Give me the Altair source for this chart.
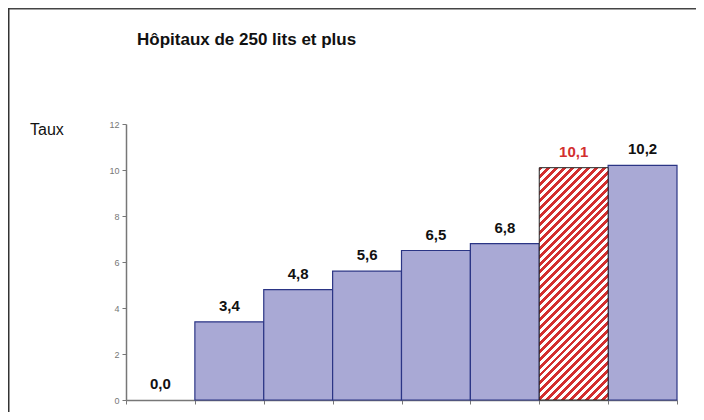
import altair as alt
import pandas as pd

# ---- data ----
positions = [0, 1, 2, 3, 4, 5, 6, 7]
values = [0.0, 3.4, 4.8, 5.6, 6.5, 6.8, 10.1, 10.2]
value_labels = ["0,0", "3,4", "4,8", "5,6", "6,5", "6,8", "10,1", "10,2"]
highlight = [False, False, False, False, False, False, True, False]
y_ticks = [0, 2, 4, 6, 8, 10, 12]
x_ticks = [0, 1, 2, 3, 4, 5, 6, 7, 8]
title_text = "Hôpitaux de 250 lits et plus"
y_title = "Taux"

df = pd.DataFrame({"idx": positions, "value": values, "label": value_labels, "hl": highlight})

W, H = 688, 404
X_RANGE = [118, 669]
Y_RANGE = [392, 116]
FONT = "Liberation Sans"
BAR_FILL = "#a9a9d5"
BAR_STROKE = "#2b3585"
RED = "#d32f2f"

xscale = alt.Scale(domain=[0, 8], range=X_RANGE, nice=False, zero=False)
yscale = alt.Scale(domain=[0, 12], range=Y_RANGE, nice=False)

xaxis = alt.Axis(values=x_ticks, labels=False, title=None, grid=False, ticks=True,
                 tickSize=4, tickColor="#777", domainColor="#777", domainWidth=1.5,
                 offset=-(H - Y_RANGE[0]))
yaxis = alt.Axis(values=y_ticks, title=None, grid=False, tickSize=4, tickColor="#777",
                 domainColor="#777", domainWidth=1.5, labelFontSize=9, labelColor="#777",
                 labelPadding=3, offset=-X_RANGE[0])

base = alt.Chart(df).transform_calculate(
    x_end="datum.idx + 1", x_mid="datum.idx + 0.5", base0="0"
)

bars = base.mark_bar(fill=BAR_FILL, stroke=BAR_STROKE, strokeWidth=1.2).encode(
    x=alt.X("idx:Q", scale=xscale, axis=xaxis),
    x2="x_end:Q",
    y=alt.Y("value:Q", scale=yscale, axis=yaxis),
    y2="base0:Q",
).transform_filter("datum.value > 0 && !datum.hl")

# hatch fill for highlighted bar: diagonal stripes via a hard-stop linear gradient
hl_val = [v for v, h in zip(values, highlight) if h][0]
bw = (X_RANGE[1] - X_RANGE[0]) / 8.0
bh = hl_val * (Y_RANGE[0] - Y_RANGE[1]) / 12.0
r = bw / bh
b = (1 + r) / (1 + r * r)
a = r * b
n = int(round((bw + bh) / 8.0))
stops = []
for k in range(n):
    stops += [
        alt.GradientStop(offset=k / n, color=RED),
        alt.GradientStop(offset=(k + 0.5) / n, color=RED),
        alt.GradientStop(offset=(k + 0.5) / n, color="#ffffff"),
        alt.GradientStop(offset=(k + 1) / n, color="#ffffff"),
    ]
grad = alt.LinearGradient(gradient="linear", stops=stops, x1=0, y1=0, x2=a, y2=b)

hatch = base.mark_bar(fill=grad, stroke="#222", strokeWidth=1).encode(
    x=alt.X("idx:Q", scale=xscale),
    x2="x_end:Q",
    y=alt.Y("value:Q", scale=yscale),
    y2="base0:Q",
).transform_filter("datum.hl")

labels = base.mark_text(font=FONT, fontSize=15, fontWeight="bold", baseline="bottom", dy=-8).encode(
    x=alt.X("x_mid:Q", scale=xscale),
    y=alt.Y("value:Q", scale=yscale),
    text="label:N",
    color=alt.condition("datum.hl", alt.value(RED), alt.value("#111")),
)

one = pd.DataFrame({"t": [title_text], "yt": [y_title]})
title = alt.Chart(one).mark_text(font=FONT, fontSize=17, fontWeight="bold", align="left",
                                 baseline="middle", color="#111").encode(
    x=alt.value(129), y=alt.value(32), text="t:N")
ytitle = alt.Chart(one).mark_text(font=FONT, fontSize=16, align="left",
                                  baseline="middle", color="#111").encode(
    x=alt.value(22), y=alt.value(122), text="yt:N")

frame_top = alt.Chart(one).mark_rule(color="#444", strokeWidth=2).encode(
    x=alt.value(0), x2=alt.value(W), y=alt.value(0.5))
frame_left = alt.Chart(one).mark_rule(color="#333", strokeWidth=2).encode(
    x=alt.value(0.5), y=alt.value(0), y2=alt.value(H))

chart = alt.layer(bars, hatch, labels, title, ytitle, frame_top, frame_left).properties(
    width=W, height=H, autosize=alt.AutoSizeParams(type="none"), padding=0,
    background="white",
).configure_view(stroke=None).configure_axis(labelFont=FONT)

chart.save("out.html", embed_options={"renderer": "svg", "actions": False})
